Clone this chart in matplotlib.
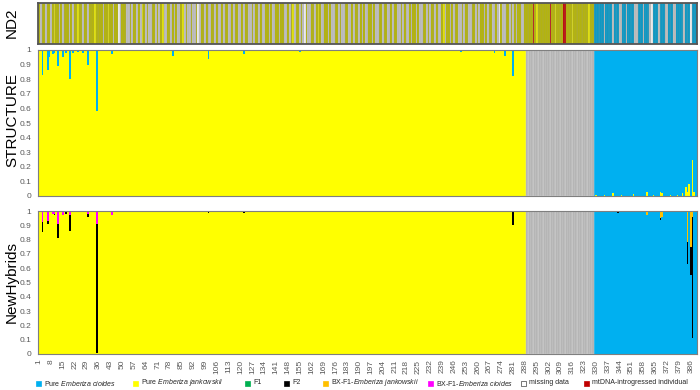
import numpy as np
import matplotlib.pyplot as plt

plt.rcParams["font.family"] = ["Liberation Sans", "DejaVu Sans"]
plt.rcParams["mathtext.fontset"] = "custom"
plt.rcParams["mathtext.rm"] = "Liberation Sans"
plt.rcParams["mathtext.it"] = "Liberation Sans:italic"

# sample groups, in plot order
n_jank = 288       # STRUCTURE / NewHybrids assign to E. jankowskii
n_missing = 40     # no nuclear data
n_cioides = 61     # assign to E. cioides

# ND2 haplotype per sample: J/Y jankowskii, M/W missing, R introgressed, C cioides
nd2_codes = (
    "JMJJMJJMJY" "JJMJMJJJMJ" "MJJYJJMJJM" "JJJYJJJJMJ" "JYJJMJJWMJ"
    "JJMMJMJJMJ" "MYJMJMMJJM" "JMJYMMJJMJ" "MJMMJYMJMM" "JMMJWMJJMJ"
    "MMJJMJMMJM" "JJMMJMJJMM" "JMJJMMJMJJ" "MJMMJJMJMM" "JJMJJMMJMJ"
    "YMJJMJMWJM" "MJJMJYJMMJ" "JMJMMJJMJM" "MJJMMJMJJM" "JMJMMJJMJM"
    "MJJMJJMMJM" "JJMMJMJMMJ" "MJJMJMMJJM" "JMJJMJMMJY" "MJJMJMJJMM"
    "JMJJMMJJMJ" "MJJMJMJJMM" "JMWJMMJJMJ" "MJMJJMMJ"
    "JJJJRJYJJJ" "JJJJRJJYJJ" "JJRRJJJYJJ" "JJJJJJJYJJ"
    "CCCCCCMCCC" "CMCCCMMCCM" "CCCCMMCCCM" "CCCMWCCCMC" "CCMMCCCMMC"
    "CCCMCCCWCCC"
)

# STRUCTURE: cioides share in jankowskii-assigned samples (others = 0)
st_blue_jank = [(3, 0.17), (6, 0.135), (7, 0.05), (9, 0.03), (10, 0.02),
                (12, 0.11), (15, 0.05), (17, 0.02), (19, 0.20), (21, 0.02),
                (24, 0.015), (27, 0.02), (30, 0.105), (33, 0.01), (35, 0.42),
                (44, 0.03), (48, 0.01), (55, 0.01), (63, 0.01), (80, 0.04),
                (88, 0.01), (101, 0.065), (110, 0.01), (122, 0.03), (140, 0.01),
                (155, 0.015), (170, 0.01), (190, 0.01), (210, 0.01), (230, 0.01),
                (250, 0.015), (262, 0.01), (270, 0.02), (276, 0.04), (281, 0.18),
                (284, 0.01)]
# STRUCTURE: jankowskii share in cioides-assigned samples
st_yellow_cio = [(330, 0.01), (335, 0.005), (340, 0.02), (345, 0.01), (352, 0.015),
                 (360, 0.03), (364, 0.01), (368, 0.025), (369, 0.02), (374, 0.01),
                 (378, 0.01), (381, 0.02), (383, 0.06), (384, 0.03), (385, 0.08),
                 (387, 0.25), (388, 0.03)]

# NewHybrids: (sample, F2, BX-F1-cioides) in jankowskii-assigned samples
nh_jank = [(3, 0.07, 0.08), (6, 0.02, 0.07), (9, 0.0, 0.02), (10, 0.01, 0.02),
           (12, 0.10, 0.09), (15, 0.0, 0.03), (17, 0.01, 0.01), (19, 0.115, 0.025),
           (22, 0.0, 0.01), (30, 0.02, 0.02), (35, 0.90, 0.09), (44, 0.0, 0.03),
           (80, 0.01, 0.0), (101, 0.005, 0.01), (122, 0.005, 0.01), (155, 0.01, 0.0),
           (190, 0.005, 0.005), (230, 0.005, 0.005), (281, 0.085, 0.01)]
# NewHybrids: (sample, F2, BX-F1-jankowskii) in cioides-assigned samples
nh_cio = [(343, 0.01, 0.005), (348, 0.0, 0.01), (355, 0.0, 0.005), (360, 0.0, 0.03),
          (368, 0.01, 0.05), (369, 0.0, 0.04), (375, 0.0, 0.01), (380, 0.0, 0.01),
          (384, 0.15, 0.22), (386, 0.20, 0.25), (387, 0.85, 0.04)]

legend_labels = ["Pure $\\it{Emberiza\\ cioides}$", "Pure $\\it{Emberiza\\ jankowskii}$",
                 "F1", "F2", "BX-F1-$\\it{Emberiza\\ jankowskii}$",
                 "BX-F1-$\\it{Emberiza\\ cioides}$", "missing data",
                 "mtDNA-introgressed individual"]

# colours
C_BLUE = "#00B0F0"
C_YEL = "#FFFF00"
C_GREEN = "#00B050"
C_BLACK = "#000000"
C_ORANGE = "#FFC000"
C_MAG = "#FF00FF"
C_RED = "#C00000"
nd2_colors = {"J": "#B6B600", "Y": "#E8E800", "M": "#C2C2C2", "W": "#F4F4F4",
              "R": "#C00000", "C": "#0098C8"}
legend_colors = [C_BLUE, C_YEL, C_GREEN, C_BLACK, C_ORANGE, C_MAG, "white", C_RED]

n = n_jank + n_missing + n_cioides
assert len(nd2_codes) == n, len(nd2_codes)
idx = np.arange(1, n + 1)
jank = idx <= n_jank
miss = (idx > n_jank) & (idx <= n_jank + n_missing)
cio = idx > n_jank + n_missing

# build per-sample proportions
st_blue = np.where(cio, 1.0, 0.0)
for i, v in st_blue_jank:
    st_blue[i - 1] = v
for i, v in st_yellow_cio:
    st_blue[i - 1] = 1 - v
st_yellow = np.where(miss, 0, 1 - st_blue)
st_blue[miss] = 0

nh_black = np.zeros(n)
nh_mag = np.zeros(n)
nh_orange = np.zeros(n)
for i, b, m in nh_jank:
    nh_black[i - 1] = b
    nh_mag[i - 1] = m
for i, b, o in nh_cio:
    nh_black[i - 1] = b
    nh_orange[i - 1] = o
nh_yellow = np.where(jank, 1 - nh_black - nh_mag, 0)
nh_blue = np.where(cio, 1 - nh_black - nh_orange, 0)

W, H = 700, 390
fig = plt.figure(figsize=(W / 100, H / 100), dpi=100)


def px_axes(left, top, right, bottom):
    return fig.add_axes([left / W, 1 - bottom / H, (right - left) / W, (bottom - top) / H])


ax_nd2 = px_axes(38, 3, 697, 44)
ax_st = px_axes(38, 50, 697, 196)
ax_nh = px_axes(38, 211, 697, 354)

bw = 1.04
grey_edge = "#7F7F7F"
tick_col = "#595959"

# ND2 strip
ax_nd2.bar(idx, 1, width=bw, color=[nd2_colors[c] for c in nd2_codes],
           edgecolor="#9A9A9A", linewidth=0.15)
ax_nd2.set_ylim(0, 1)
ax_nd2.set_xticks([])
ax_nd2.set_yticks([])

# STRUCTURE
ax_st.bar(idx, st_yellow, width=bw, color=C_YEL, linewidth=0)
ax_st.bar(idx, st_blue, bottom=st_yellow, width=bw, color=C_BLUE, linewidth=0)

# NewHybrids
bottom = np.zeros(n)
for vals, col in [(nh_yellow, C_YEL), (nh_blue, C_BLUE), (nh_black, C_BLACK),
                  (nh_orange, C_ORANGE), (nh_mag, C_MAG)]:
    ax_nh.bar(idx, vals, bottom=bottom, width=bw, color=col, linewidth=0)
    bottom = bottom + vals

for ax in (ax_st, ax_nh):
    ax.bar(idx[miss], 1, width=1.0, color="#ABABAB", edgecolor="#D6D6D6", linewidth=0.35)
    ax.set_ylim(0, 1)
    ax.set_yticks(np.arange(0, 1.01, 0.1))
    ax.set_yticklabels(["0", "0.1", "0.2", "0.3", "0.4", "0.5", "0.6", "0.7", "0.8", "0.9", "1"])
    ax.tick_params(axis="y", length=0, pad=5, labelsize=6, labelcolor=tick_col)

for ax in (ax_nd2, ax_st, ax_nh):
    ax.set_xlim(0.3, n + 0.6)
    for s in ax.spines.values():
        s.set_color(grey_edge)
        s.set_linewidth(0.8)
for s in ax_nd2.spines.values():
    s.set_linewidth(1.3)
    s.set_color("#555555")

ax_st.set_xticks([])
xt = np.arange(1, n + 1, 7)
ax_nh.set_xticks(xt)
ax_nh.set_xticklabels([str(v) for v in xt], rotation=90)
ax_nh.tick_params(axis="x", length=0, pad=4, labelsize=6, labelcolor=tick_col)

# panel labels
fig.text(12 / W, 1 - 23 / H, "ND2", rotation=90, ha="center", va="center", fontsize=11)
fig.text(12 / W, 1 - 120 / H, "STRUCTURE", rotation=90, ha="center", va="center", fontsize=11)
fig.text(12 / W, 1 - 282 / H, "NewHybrids", rotation=90, ha="center", va="center", fontsize=11)

# legend along the bottom
marker_x = [38, 135, 247, 286, 325, 430, 523, 586]
ly = 1 - 383 / H
for x, lab, col in zip(marker_x, legend_labels, legend_colors):
    fig.patches.append(plt.Rectangle(((x - 2.5) / W, ly - 2.5 / H), 5 / W, 5 / H,
                                     transform=fig.transFigure, facecolor=col,
                                     edgecolor="#404040" if col == "white" else col,
                                     linewidth=0.5))
    fig.text((x + 6) / W, ly, lab, ha="left", va="center", fontsize=5.0,
             color="#262626")

fig.savefig("out.png", dpi=100)
